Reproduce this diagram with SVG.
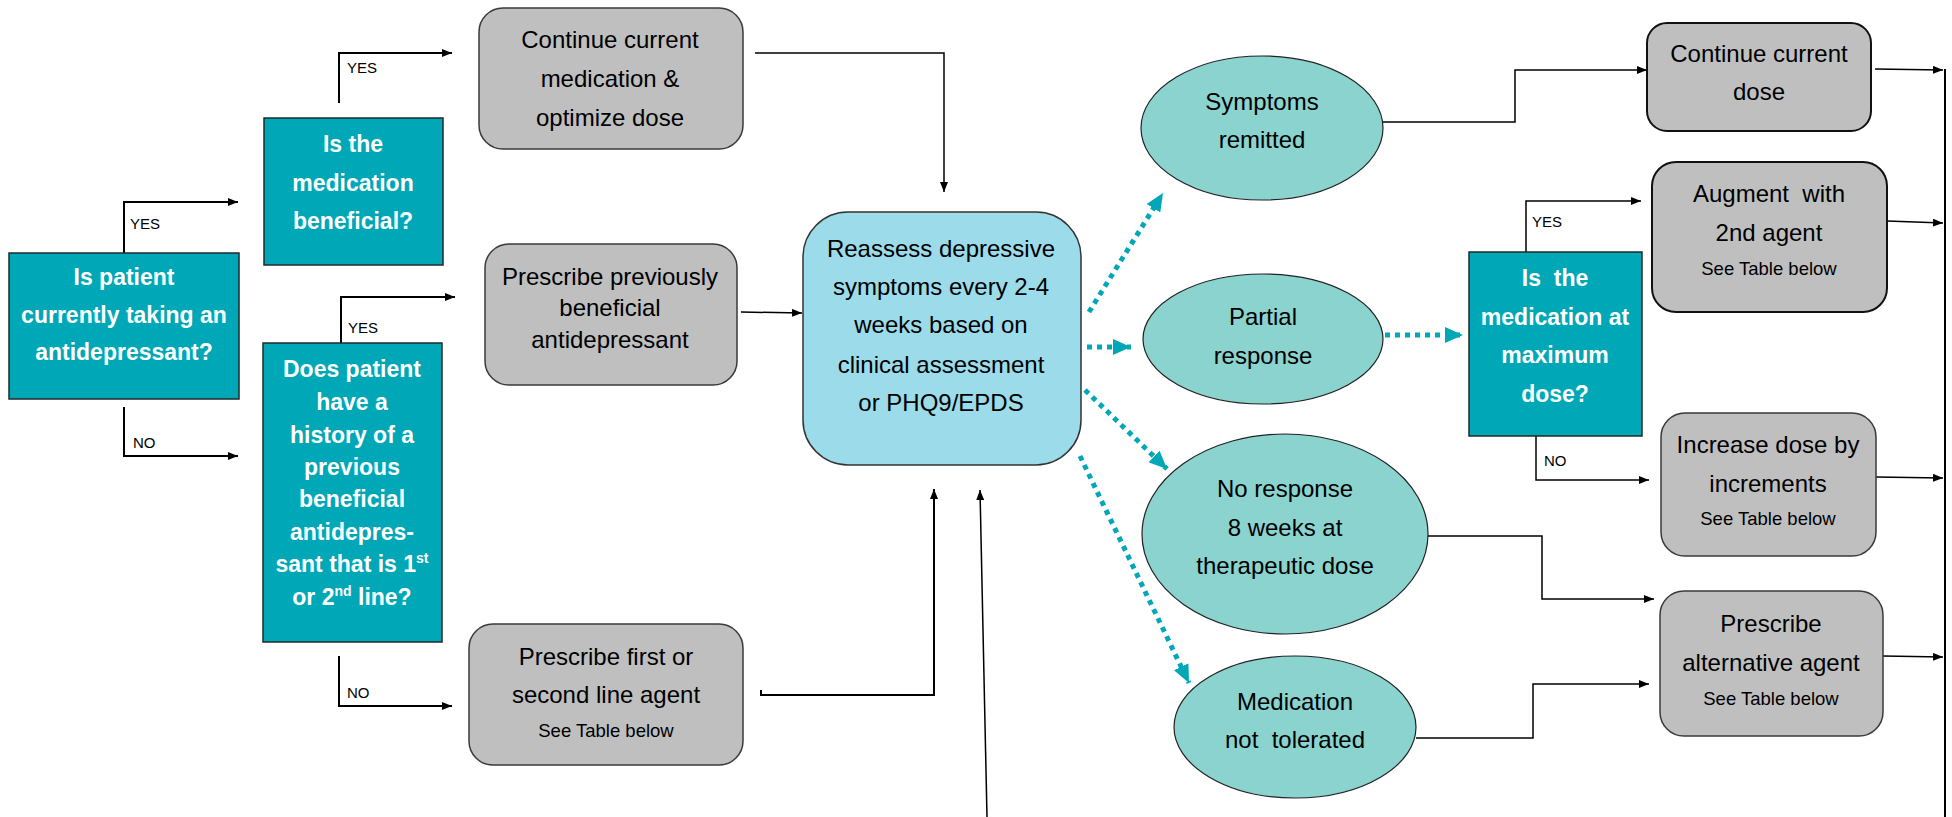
<svg xmlns="http://www.w3.org/2000/svg" width="1952" height="817" viewBox="0 0 1952 817">
<defs>
<marker id="arr" markerUnits="userSpaceOnUse" markerWidth="10" markerHeight="8" refX="10" refY="4" orient="auto"><path d="M0,0 L10,4 L0,8 z" fill="#000"/></marker>
<marker id="tarr" markerUnits="userSpaceOnUse" markerWidth="18" markerHeight="16" refX="18" refY="8" orient="auto"><path d="M0,0 L18,8 L0,16 z" fill="#00A7B7"/></marker>
<style>
.q{fill:#00A7B7;stroke:#1e2b2d;stroke-width:1.5}
.g{fill:#BFBFBF;stroke:#3a3a3a;stroke-width:1.5}
.gk{fill:#BFBFBF;stroke:#111;stroke-width:2}
.e{fill:#8AD3CF;stroke:#222;stroke-width:1.2}
.r{fill:#9BDBEA;stroke:#333;stroke-width:1.5}
.tw{font-family:"Liberation Sans",Arial,sans-serif;font-weight:bold;font-size:23px;fill:#fff;text-anchor:middle}
.tb{font-family:"Liberation Sans",Arial,sans-serif;font-size:24px;fill:#000;text-anchor:middle}
.ts{font-family:"Liberation Sans",Arial,sans-serif;font-size:18.5px;fill:#000;text-anchor:middle}
.tl{font-family:"Liberation Sans",Arial,sans-serif;font-size:15px;fill:#000}
.c{fill:none;stroke:#000;stroke-width:2}
.c1{fill:none;stroke:#000;stroke-width:1.5}
.d{fill:none;stroke:#00A7B7;stroke-width:5;stroke-dasharray:5 5}
</style>
</defs>
<g id="connectors">
<polyline class="c" points="124,253 124,202 238,202" marker-end="url(#arr)"/>
<polyline class="c" points="124,407 124,456 238,456" marker-end="url(#arr)"/>
<polyline class="c" points="339,103 339,53 452,53" marker-end="url(#arr)"/>
<polyline class="c" points="341,347 341,297 455,297" marker-end="url(#arr)"/>
<polyline class="c" points="339,656 339,706 452,706" marker-end="url(#arr)"/>
<polyline class="c1" points="755,53 944,53 944,192" marker-end="url(#arr)"/>
<polyline class="c1" points="741,312 802,313" marker-end="url(#arr)"/>
<polyline class="c" points="761,690 761,695 934,695 934,489" marker-end="url(#arr)"/>
<polyline class="c1" points="987,817 980,490" marker-end="url(#arr)"/>
<line class="d" x1="1089" y1="312" x2="1163" y2="193" marker-end="url(#tarr)"/>
<line class="d" x1="1087" y1="347" x2="1131" y2="347" marker-end="url(#tarr)"/>
<line class="d" x1="1085" y1="390" x2="1167" y2="469" marker-end="url(#tarr)"/>
<line class="d" x1="1080" y1="456" x2="1189" y2="683" marker-end="url(#tarr)"/>
<line class="d" x1="1385" y1="335" x2="1463" y2="335" marker-end="url(#tarr)"/>
<polyline class="c1" points="1383,122 1515,122 1515,70 1647,70" marker-end="url(#arr)"/>
<polyline class="c1" points="1526,252 1526,201 1641,201" marker-end="url(#arr)"/>
<polyline class="c1" points="1536,436 1536,480 1649,480" marker-end="url(#arr)"/>
<polyline class="c1" points="1428,536 1542,536 1542,599 1654,599" marker-end="url(#arr)"/>
<polyline class="c1" points="1416,738 1533,738 1533,684 1649,684" marker-end="url(#arr)"/>
<polyline class="c1" points="1875,69 1943,70" marker-end="url(#arr)"/>
<polyline class="c1" points="1887,221 1943,223" marker-end="url(#arr)"/>
<polyline class="c1" points="1876,477 1943,478" marker-end="url(#arr)"/>
<polyline class="c1" points="1883,656 1943,657" marker-end="url(#arr)"/>
<line class="c" x1="1945" y1="69" x2="1945" y2="817"/>
<text class="tl" x="130" y="229">YES</text>
<text class="tl" x="133" y="448">NO</text>
<text class="tl" x="347" y="73">YES</text>
<text class="tl" x="348" y="333">YES</text>
<text class="tl" x="347" y="698">NO</text>
<text class="tl" x="1532" y="227">YES</text>
<text class="tl" x="1544" y="466">NO</text>
</g>
<g id="q-taking">
<rect class="q" x="9" y="253" width="230" height="146"/>
<text class="tw" x="124" y="285">Is patient</text>
<text class="tw" x="124" y="323">currently taking an</text>
<text class="tw" x="124" y="360">antidepressant?</text>
</g>
<g id="q-beneficial">
<rect class="q" x="264" y="118" width="179" height="147"/>
<text class="tw" x="353" y="152">Is the</text>
<text class="tw" x="353" y="191">medication</text>
<text class="tw" x="353" y="229">beneficial?</text>
</g>
<g id="q-history">
<rect class="q" x="263" y="343" width="179" height="299"/>
<text class="tw" x="352" y="377">Does patient</text>
<text class="tw" x="352" y="410">have a</text>
<text class="tw" x="352" y="443">history of a</text>
<text class="tw" x="352" y="475">previous</text>
<text class="tw" x="352" y="507">beneficial</text>
<text class="tw" x="352" y="540">antidepres-</text>
<text class="tw" x="352" y="572">sant that is 1<tspan font-size="14" dy="-9">st</tspan></text>
<text class="tw" x="352" y="605">or 2<tspan font-size="14" dy="-9">nd</tspan><tspan dy="9"> line?</tspan></text>
</g>
<g id="continue-med">
<rect class="g" x="479" y="8" width="264" height="141" rx="24"/>
<text class="tb" x="610" y="48">Continue current</text>
<text class="tb" x="610" y="87">medication &amp;</text>
<text class="tb" x="610" y="126">optimize dose</text>
</g>
<g id="prescribe-prev">
<rect class="g" x="485" y="244" width="252" height="141" rx="24"/>
<text class="tb" x="610" y="285">Prescribe previously</text>
<text class="tb" x="610" y="316">beneficial</text>
<text class="tb" x="610" y="348">antidepressant</text>
</g>
<g id="prescribe-first">
<rect class="g" x="469" y="624" width="274" height="141" rx="24"/>
<text class="tb" x="606" y="665">Prescribe first or</text>
<text class="tb" x="606" y="703">second line agent</text>
<text class="ts" x="606" y="737">See Table below</text>
</g>
<g id="reassess">
<rect class="r" x="803" y="212" width="278" height="253" rx="45"/>
<text class="tb" x="941" y="257" font-size="23">Reassess depressive</text>
<text class="tb" x="941" y="295" font-size="23">symptoms every 2-4</text>
<text class="tb" x="941" y="333" font-size="23">weeks based on</text>
<text class="tb" x="941" y="373" font-size="23">clinical assessment</text>
<text class="tb" x="941" y="411" font-size="23">or PHQ9/EPDS</text>
</g>
<g id="remitted">
<ellipse class="e" cx="1262" cy="128" rx="121" ry="72"/>
<text class="tb" x="1262" y="110">Symptoms</text>
<text class="tb" x="1262" y="148">remitted</text>
</g>
<g id="partial">
<ellipse class="e" cx="1263" cy="339" rx="120" ry="65"/>
<text class="tb" x="1263" y="325">Partial</text>
<text class="tb" x="1263" y="364">response</text>
</g>
<g id="no-response">
<ellipse class="e" cx="1285" cy="534" rx="143" ry="100"/>
<text class="tb" x="1285" y="497">No response</text>
<text class="tb" x="1285" y="536">8 weeks at</text>
<text class="tb" x="1285" y="574">therapeutic dose</text>
</g>
<g id="not-tolerated">
<ellipse class="e" cx="1295" cy="727" rx="121" ry="71"/>
<text class="tb" x="1295" y="710">Medication</text>
<text class="tb" x="1295" y="748" xml:space="preserve">not  tolerated</text>
</g>
<g id="q-max">
<rect class="q" x="1469" y="252" width="173" height="184"/>
<text class="tw" x="1555" y="286" xml:space="preserve">Is  the</text>
<text class="tw" x="1555" y="325">medication at</text>
<text class="tw" x="1555" y="363">maximum</text>
<text class="tw" x="1555" y="402">dose?</text>
</g>
<g id="continue-dose">
<rect class="gk" x="1647" y="23" width="224" height="108" rx="20"/>
<text class="tb" x="1759" y="62">Continue current</text>
<text class="tb" x="1759" y="100">dose</text>
</g>
<g id="augment">
<rect class="gk" x="1652" y="162" width="235" height="150" rx="24"/>
<text class="tb" x="1769" y="202" xml:space="preserve">Augment  with</text>
<text class="tb" x="1769" y="241">2nd agent</text>
<text class="ts" x="1769" y="275">See Table below</text>
</g>
<g id="increase">
<rect class="g" x="1661" y="413" width="215" height="143" rx="24"/>
<text class="tb" x="1768" y="453">Increase dose by</text>
<text class="tb" x="1768" y="492">increments</text>
<text class="ts" x="1768" y="525">See Table below</text>
</g>
<g id="alternative">
<rect class="g" x="1660" y="591" width="223" height="145" rx="24"/>
<text class="tb" x="1771" y="632">Prescribe</text>
<text class="tb" x="1771" y="671">alternative agent</text>
<text class="ts" x="1771" y="705">See Table below</text>
</g>
</svg>
